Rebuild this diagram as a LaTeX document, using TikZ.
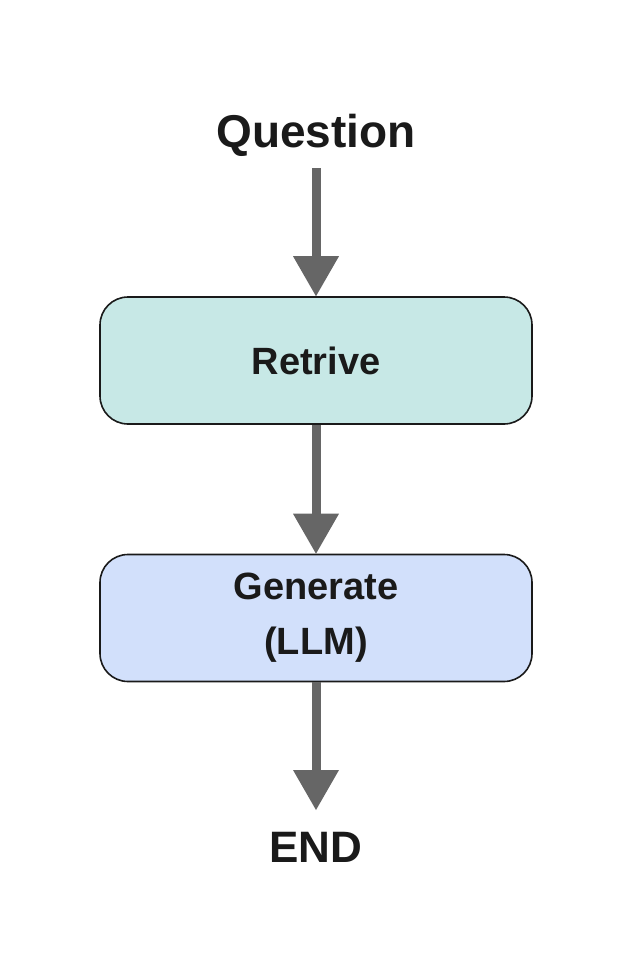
\documentclass[tikz,border=0pt]{standalone}
\usepackage{fontspec}
\setmainfont{Liberation Sans}
\usetikzlibrary{arrows.meta}
\definecolor{txt}{HTML}{1A1A1A}
\definecolor{arrgray}{HTML}{666666}
\definecolor{tealfill}{HTML}{C7E8E6}
\definecolor{bluefill}{HTML}{D2E0FB}
\tikzset{
  lbl/.style={inner sep=0pt, text=txt, font=\fontsize{46}{52}\selectfont\bfseries},
  stepbox/.style={draw=txt, line width=1.6pt, rounded corners=28pt,
    minimum width=432pt, minimum height=127pt, inner sep=0pt, text=txt,
    align=center, font=\fontsize{38}{55}\selectfont\bfseries},
  arr/.style={draw=arrgray, line width=9pt,
    -{Triangle[width=46pt,length=40pt,line width=0pt]}}
}
\begin{document}
\begin{tikzpicture}[x=1pt,y=-1pt]
\useasboundingbox (0,0) rectangle (632,979);
\node[lbl] (q) at (316,135) {Question};
\node[stepbox, fill=tealfill] (r) at (316,360.5) {Retrive};
\node[stepbox, fill=bluefill] (g) at (316,618) {Generate\\(LLM)};
\node[lbl, font=\fontsize{44}{50}\selectfont\bfseries] (e) at (316,847) {END};
\draw[arr, shorten <=33pt] (q.center) -- (r.north);
\draw[arr] (r.south) -- (g.north);
\draw[arr, shorten >=37pt] (g.south) -- (e.center);
\end{tikzpicture}
\end{document}
